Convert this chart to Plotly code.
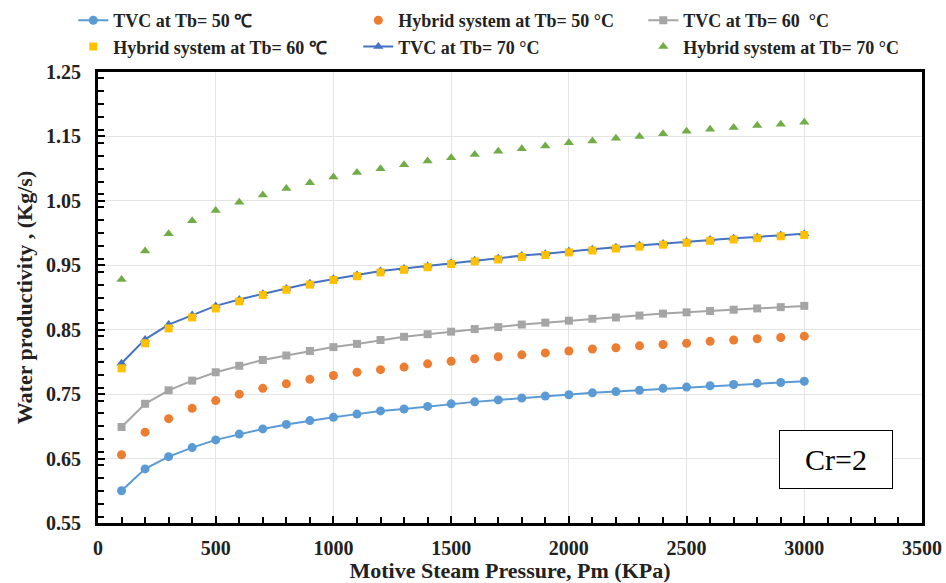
import plotly.graph_objects as go

pressure = [100, 200, 300, 400, 500, 600, 700, 800, 900, 1000,
            1100, 1200, 1300, 1400, 1500, 1600, 1700, 1800, 1900, 2000,
            2100, 2200, 2300, 2400, 2500, 2600, 2700, 2800, 2900, 3000]

tvc_50 = [0.600, 0.634, 0.653, 0.667, 0.679, 0.688, 0.696, 0.703, 0.709, 0.714,
          0.719, 0.724, 0.727, 0.731, 0.735, 0.738, 0.741, 0.744, 0.747, 0.749,
          0.752, 0.754, 0.756, 0.759, 0.761, 0.763, 0.765, 0.767, 0.768, 0.770]
hyb_50 = [0.656, 0.691, 0.712, 0.728, 0.740, 0.750, 0.759, 0.766, 0.773, 0.779,
          0.784, 0.788, 0.792, 0.797, 0.801, 0.805, 0.808, 0.811, 0.814, 0.817,
          0.820, 0.822, 0.825, 0.827, 0.829, 0.832, 0.834, 0.836, 0.838, 0.840]
tvc_60 = [0.699, 0.735, 0.756, 0.771, 0.784, 0.794, 0.803, 0.810, 0.817, 0.823,
          0.828, 0.834, 0.839, 0.843, 0.847, 0.851, 0.854, 0.858, 0.861, 0.864,
          0.867, 0.869, 0.872, 0.875, 0.877, 0.879, 0.881, 0.883, 0.885, 0.887]
hyb_60 = [0.790, 0.829, 0.852, 0.869, 0.883, 0.894, 0.904, 0.912, 0.920, 0.927,
          0.933, 0.939, 0.943, 0.947, 0.952, 0.956, 0.959, 0.963, 0.966, 0.970,
          0.973, 0.976, 0.979, 0.982, 0.985, 0.988, 0.990, 0.992, 0.995, 0.997]
tvc_70 = [0.798, 0.835, 0.858, 0.873, 0.887, 0.897, 0.906, 0.914, 0.922, 0.929,
          0.935, 0.941, 0.945, 0.949, 0.954, 0.958, 0.961, 0.965, 0.968, 0.972,
          0.975, 0.978, 0.981, 0.984, 0.987, 0.990, 0.992, 0.994, 0.997, 0.999]
hyb_70 = [0.928, 0.972, 0.999, 1.019, 1.035, 1.048, 1.059, 1.069, 1.078, 1.087,
          1.094, 1.100, 1.106, 1.112, 1.117, 1.122, 1.127, 1.131, 1.135, 1.140,
          1.143, 1.147, 1.150, 1.154, 1.158, 1.161, 1.164, 1.167, 1.169, 1.172]

names = ["TVC at Tb= 50 \u2103", "Hybrid system at Tb= 50 \u00b0C",
         "TVC at Tb= 60  \u00b0C", "Hybrid system at Tb= 60 \u2103",
         "TVC at Tb= 70 \u00b0C", "Hybrid system at Tb= 70 \u00b0C"]

SERIF = "Liberation Serif, Times New Roman, serif"

fig = go.Figure()
# drawing order (squares above TVC 70 triangles), legend order via legendrank
fig.add_trace(go.Scatter(x=pressure, y=tvc_50, name=names[0], mode="lines+markers",
                         line=dict(color="#5B9BD5", width=2),
                         marker=dict(symbol="circle", size=9, color="#5B9BD5"),
                         legendrank=1))
fig.add_trace(go.Scatter(x=pressure, y=hyb_50, name=names[1], mode="markers",
                         marker=dict(symbol="circle", size=9, color="#ED7D31"),
                         legendrank=2))
fig.add_trace(go.Scatter(x=pressure, y=tvc_60, name=names[2], mode="lines+markers",
                         line=dict(color="#A5A5A5", width=2),
                         marker=dict(symbol="square", size=8, color="#A5A5A5"),
                         legendrank=3))
fig.add_trace(go.Scatter(x=pressure, y=tvc_70, name=names[4], mode="lines+markers",
                         line=dict(color="#4472C4", width=2),
                         marker=dict(symbol="triangle-up", size=9, color="#4472C4"),
                         legendrank=5))
fig.add_trace(go.Scatter(x=pressure, y=hyb_60, name=names[3], mode="markers",
                         marker=dict(symbol="square", size=8, color="#FFC000"),
                         legendrank=4))
fig.add_trace(go.Scatter(x=pressure, y=hyb_70, name=names[5], mode="markers",
                         marker=dict(symbol="triangle-up", size=9, color="#70AD47"),
                         legendrank=6))

axis_common = dict(
    showline=True, linecolor="black", linewidth=3, mirror=True,
    showgrid=True, gridcolor="#e4e4e4", gridwidth=1,
    ticks="inside", ticklen=7, tickwidth=2, tickcolor="black",
    tickfont=dict(family=SERIF, size=20, color="#222222", weight="bold"),
    zeroline=False, automargin=False,
)

fig.update_xaxes(range=[0, 3500], dtick=500, tick0=0, ticklabelstandoff=5,
                 minor=dict(dtick=100, ticks="inside", ticklen=6, tickwidth=2,
                            tickcolor="black", showgrid=False),
                 title=dict(text="Motive Steam Pressure, Pm (KPa)", standoff=1,
                            font=dict(family=SERIF, size=22, color="#222222", weight="bold")),
                 **axis_common)
fig.update_yaxes(range=[0.55, 1.25], dtick=0.1, tick0=0.55, tickformat=".2f",
                 ticklabelstandoff=10,
                 minor=dict(dtick=0.02, ticks="inside", ticklen=6, tickwidth=2,
                            tickcolor="black", showgrid=False),
                 title=dict(text="Water productivity , (Kg/s)", standoff=8,
                            font=dict(family=SERIF, size=22, color="#222222", weight="bold")),
                 **axis_common)

fig.add_annotation(x=3135, y=0.649, xref="x", yref="y", text="Cr=2", showarrow=False,
                   font=dict(family=SERIF, size=30, color="black"),
                   width=108, height=53, borderpad=2, bordercolor="black",
                   borderwidth=1, bgcolor="white")

fig.update_layout(
    width=946, height=583,
    margin=dict(l=98, r=24, t=72, b=60, autoexpand=False),
    plot_bgcolor="white", paper_bgcolor="white",
    legend=dict(orientation="h", x=-0.03, xanchor="left", y=1.0155, yanchor="bottom",
                entrywidth=240, entrywidthmode="pixels",
                font=dict(family=SERIF, size=18, color="#222222", weight="bold"),
                bgcolor="rgba(0,0,0,0)"),
)

fig.write_html("out.html")
